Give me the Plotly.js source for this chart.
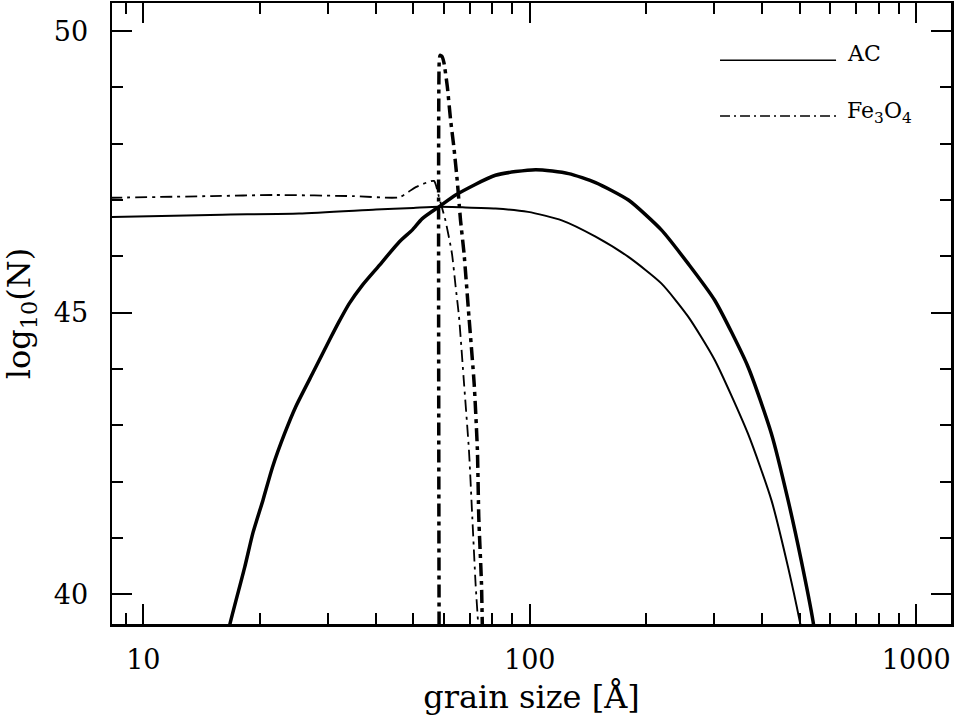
<!DOCTYPE html>
<html>
<head>
<meta charset="utf-8">
<script src="https://cdn.plot.ly/plotly-3.0.1.min.js"></script>
<style>
  html, body { margin: 0; padding: 0; background: #fff; }
  #chart { width: 954px; height: 719px; }
</style>
</head>
<body>
<div id="chart"></div>
<script>
// AC, thin solid curve
const acThinX = [8.2, 12, 16, 25.3, 40, 50, 58, 67, 81.5, 99, 121, 148, 180, 219, 257, 301, 367, 422, 466, 500, 520];
const acThinY = [46.70, 46.72, 46.74, 46.76, 46.83, 46.86, 46.88, 46.87, 46.85, 46.79, 46.64, 46.35, 45.99, 45.52, 44.93, 44.16, 42.85, 41.67, 40.48, 39.51, 38.9];

// AC, thick solid curve
const acThickX = [16.2, 16.77, 18.3, 19.2, 20.4, 21.6, 23.2, 24.8, 27.7, 30.3, 32.1, 34.1, 36.9, 40.8, 46.0, 49.7, 52.7, 58.2, 64.3, 81.5, 103.5, 126, 148, 180, 219, 257, 301, 367, 422, 466, 504, 541, 556];
const acThickY = [39.0, 39.48, 40.48, 41.08, 41.67, 42.26, 42.85, 43.33, 43.98, 44.51, 44.84, 45.16, 45.49, 45.84, 46.26, 46.47, 46.67, 46.88, 47.09, 47.44, 47.54, 47.47, 47.31, 47.0, 46.47, 45.87, 45.22, 44.04, 42.85, 41.67, 40.60, 39.51, 38.9];

// Fe3O4, thin dash-dot curve
const feThinX = [8.2, 15, 22, 35, 46.0, 50.7, 56.5, 58.2, 60.5, 62.9, 64.3, 65.6, 67.6, 69.6, 71.0, 72.4, 73.6, 74.0];
const feThinY = [47.04, 47.07, 47.09, 47.07, 47.05, 47.23, 47.34, 47.06, 46.64, 46.05, 45.46, 44.93, 43.74, 42.56, 41.37, 40.19, 39.42, 39.0];

// Fe3O4, thick dash-dot curve
const feThickX = [58.3, 58.3, 58.6, 59.3, 60.0, 61.2, 62.4, 63.6, 64.9, 66.2, 67.6, 69.6, 71.8, 73.2, 73.8, 75.0, 75.3, 75.6];
const feThickY = [38.5, 49.45, 49.57, 49.55, 49.43, 49.01, 48.42, 47.95, 47.35, 46.64, 46.05, 44.93, 43.74, 42.56, 41.37, 40.19, 39.60, 39.0];

const legendNames = ["AC", "Fe<sub>3</sub>O<sub>4</sub>"];

const serif = "DejaVu Serif, serif";

const line = (x, y, width, dash, smoothing) => ({
    x, y,
    type: "scatter",
    mode: "lines",
    line: { color: "#000", width, dash, shape: "spline", smoothing },
    hoverinfo: "skip",
});

const traces = [
    line(acThinX, acThinY, 2, "solid", 0.6),
    line(acThickX, acThickY, 3.5, "solid", 0.6),
    line(feThinX, feThinY, 1.8, "12px,5px,3px,5px", 0.5),
    line(feThickX, feThickY, 3.5, "13px,5px,4px,5px", 0.5),
];

const axisCommon = {
    showline: true,
    linecolor: "#000",
    linewidth: 2.5,
    mirror: "allticks",
    ticks: "inside",
    ticklen: 20,
    tickwidth: 2,
    tickcolor: "#000",
    showgrid: false,
    zeroline: false,
    tickfont: { family: serif, size: 27, color: "#000" },
};

const layout = {
    width: 954,
    height: 719,
    margin: { l: 112, r: 3, t: 3, b: 95 },
    paper_bgcolor: "#fff",
    plot_bgcolor: "#fff",
    showlegend: false,
    font: { family: serif, color: "#000" },
    xaxis: {
        ...axisCommon,
        type: "log",
        range: [0.919, 3.09],
        dtick: 1,
        tickvals: [10, 100, 1000],
        ticktext: ["10", "100", "1000"],
        ticklabelstandoff: 10,
        minor: { ticks: "inside", ticklen: 11, tickwidth: 2, tickcolor: "#000", dtick: "D1" },
        title: { text: "grain size [Å]", font: { family: serif, size: 32, color: "#000" }, standoff: 12 },
    },
    yaxis: {
        ...axisCommon,
        range: [39.47, 50.5],
        tickvals: [40, 45, 50],
        ticklabelstandoff: 16,
        minor: { ticks: "inside", ticklen: 11, tickwidth: 2, tickcolor: "#000", dtick: 1 },
        title: { text: "log<sub>10</sub>(N)", font: { family: serif, size: 32, color: "#000" }, standoff: 18 },
    },
    shapes: [
        { type: "line", xref: "paper", yref: "paper", x0: 0.7247, x1: 0.863, y0: 0.908, y1: 0.908, line: { color: "#000", width: 1.5 } },
        { type: "line", xref: "paper", yref: "paper", x0: 0.7247, x1: 0.863, y0: 0.818, y1: 0.818, line: { color: "#000", width: 1.5, dash: "10px,4px,2px,4px" } },
    ],
    annotations: [
        { xref: "paper", yref: "paper", x: 0.874, y: 0.918, xanchor: "left", yanchor: "middle", showarrow: false, text: legendNames[0], font: { family: serif, size: 22, color: "#000" } },
        { xref: "paper", yref: "paper", x: 0.874, y: 0.823, xanchor: "left", yanchor: "middle", showarrow: false, text: legendNames[1], font: { family: serif, size: 22, color: "#000" } },
    ],
};

Plotly.newPlot("chart", traces, layout, { displayModeBar: false, staticPlot: true });
</script>
</body>
</html>
